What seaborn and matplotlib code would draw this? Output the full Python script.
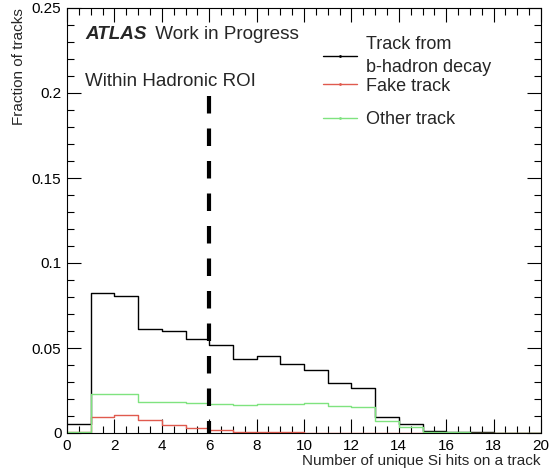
import numpy as np
import pandas as pd
import matplotlib
matplotlib.use("Agg")
import matplotlib.pyplot as plt
import seaborn as sns
from matplotlib.ticker import MultipleLocator, FuncFormatter
from matplotlib.lines import Line2D
from matplotlib.legend import Legend

# ---- data ----
bin_edges = list(range(0, 21))
bhadron = [0.0053, 0.0825, 0.0806, 0.0612, 0.0602, 0.0551, 0.0519, 0.0437, 0.0453, 0.0406,
           0.0371, 0.0292, 0.0267, 0.0094, 0.0055, 0.0014, 0.0008, 0.0003, 0.0, 0.0]
fake = [0.0003, 0.0092, 0.0104, 0.0076, 0.0049, 0.0031, 0.0016, 0.0008, 0.0005, 0.0003,
        0.0002, 0.0002, 0.0002, 0.0001, 0.0001, 0.0, 0.0, 0.0, 0.0, 0.0]
other = [0.0008, 0.0231, 0.0227, 0.0180, 0.0182, 0.0178, 0.0172, 0.0165, 0.0170, 0.0170,
         0.0178, 0.0160, 0.0155, 0.0069, 0.0035, 0.0008, 0.0005, 0.0002, 0.0001, 0.0001]
series_names = ["Track from\nb-hadron decay", "Fake track", "Other track"]
series_colors = ["black", "#e05a4e", "#7fe37f"]
legend_y = [0.887, 0.816, 0.737]
cut_value = 6
cut_top = 0.198

sns.set_theme(style="ticks")
plt.rcParams["font.family"] = ["Liberation Sans", "DejaVu Sans"]

fig = plt.figure(figsize=(5.51, 4.68), dpi=100)
ax = fig.add_axes([67 / 551, 1 - 433 / 468, 474 / 551, 425 / 468])

centers = [(a + b) / 2 for a, b in zip(bin_edges[:-1], bin_edges[1:])]
handles = []
for vals, name, col in zip([bhadron, fake, other], series_names, series_colors):
    df = pd.DataFrame({"x": centers, "w": vals})
    sns.histplot(data=df, x="x", weights="w", bins=bin_edges, element="step",
                 fill=False, color=col, linewidth=1.0, ax=ax)
    handles.append(Line2D([], [], color=col, linewidth=1.0, marker=".", markersize=2))

# vertical dashed cut line
ax.plot([cut_value, cut_value], [cut_top, 0], color="black", linewidth=3,
        linestyle=(0, (4.2, 3.6)), solid_capstyle="butt", dash_capstyle="butt")

ax.set_xlim(0, 20)
ax.set_ylim(0, 0.25)
ax.xaxis.set_major_locator(MultipleLocator(2))
ax.xaxis.set_minor_locator(MultipleLocator(0.5))
ax.yaxis.set_major_locator(MultipleLocator(0.05))
ax.yaxis.set_minor_locator(MultipleLocator(0.01))
ax.yaxis.set_major_formatter(FuncFormatter(lambda v, p: f"{v:g}"))
ax.xaxis.set_major_formatter(FuncFormatter(lambda v, p: f"{v:g}"))
ax.tick_params(which="both", direction="in", top=True, right=True, width=0.8,
               colors="black", labelsize=11)
ax.tick_params(which="major", length=10, pad=4)
ax.tick_params(which="minor", length=5)
for s in ax.spines.values():
    s.set_linewidth(0.8)
    s.set_color("black")

ax.set_xlabel("Number of unique Si hits on a track", fontsize=11, loc="right", labelpad=1)
ax.set_ylabel("Fraction of tracks", fontsize=11, loc="top", labelpad=4)

atlas = ax.text(0.038, 0.927, "ATLAS", transform=ax.transAxes, fontsize=13.6,
                fontweight="bold", fontstyle="italic", va="baseline", ha="left")
ax.annotate(" Work in Progress", xy=(1, 0), xycoords=atlas, xytext=(2.5, 0),
            textcoords="offset points", fontsize=13.6, va="bottom", ha="left")
ax.text(0.038, 0.816, "Within Hadronic ROI", transform=ax.transAxes, fontsize=13.5,
        va="baseline", ha="left")

for h, name, yy in zip(handles, series_names, legend_y):
    leg = Legend(ax, [h], [name], loc="center left",
                 bbox_to_anchor=(0.540, yy), frameon=False, fontsize=13,
                 handlelength=1.9, handletextpad=0.5, borderpad=0, borderaxespad=0,
                 numpoints=1)
    for t in leg.get_texts():
        t.set_linespacing(1.45)
    ax.add_artist(leg)

fig.savefig("out.png", dpi=100)
